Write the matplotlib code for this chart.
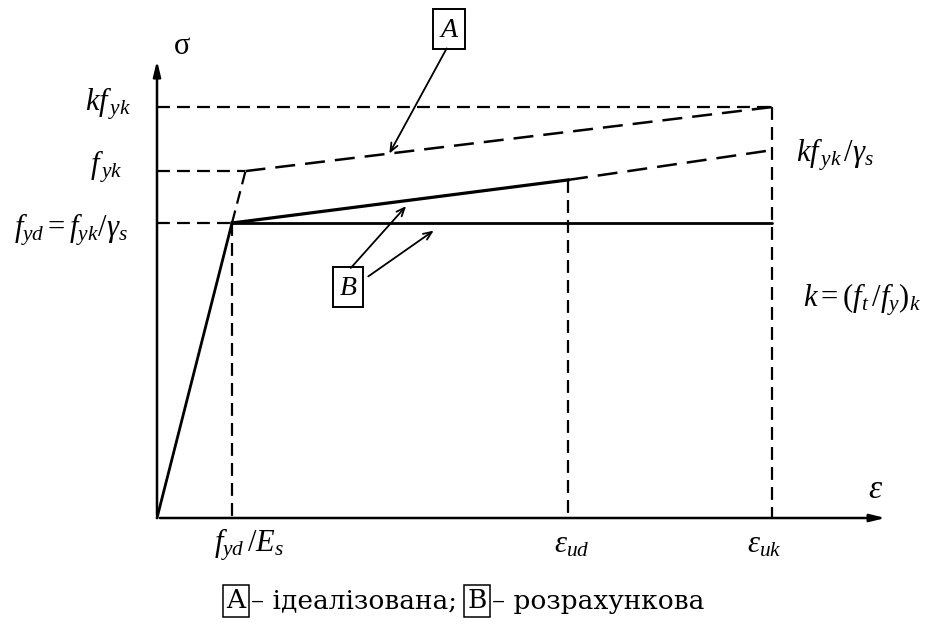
import matplotlib
matplotlib.use("Agg")
import matplotlib.pyplot as plt

plt.rcParams["mathtext.fontset"] = "custom"
plt.rcParams["mathtext.it"] = "Liberation Serif:italic"
plt.rcParams["mathtext.rm"] = "Liberation Serif"
plt.rcParams["mathtext.sf"] = "Liberation Serif"

# strain points (units of eps_yd)
eps_yd = 1.0
eps_yk = 1.18
eps_ud = 5.48
eps_uk = 8.2

# stress levels (units of f_yd)
f_yd = 1.0
f_yk = 1.176
kf_yk = 1.393
sig_ud = 1.146      # design line at eps_ud
kf_yk_gs = 1.247    # kf_yk / gamma_s at eps_uk

x_tick_labels = [r"$f_{yd}\,/E_s$", r"$\varepsilon_{ud}$", r"$\varepsilon_{uk}$"]
caption_parts = ["– ідеалізована;", "– розрахункова"]

W, H = 928, 635
fig = plt.figure(figsize=(W / 100, H / 100), dpi=100)
ax = fig.add_axes([0, 0, 1, 1])
x0, sx = 157, 75.0
y0, sy = 518, 295.0
ax.set_xlim(-x0 / sx, (W - x0) / sx)
ax.set_ylim(-(H - y0) / sy, y0 / sy)
ax.axis("off")


def px(x, y):
    """pixel position in the figure -> data coordinates"""
    return (x - x0) / sx, (y0 - y) / sy


lw = 1.6
dash = dict(color="black", lw=lw, ls=(0, (5.8, 3.2)))
long_dash = dict(color="black", lw=1.8, ls=(0, (8, 4)))
solid = dict(color="black", lw=2.0, solid_capstyle="round")

# axes with arrows
ax.annotate("", xy=(9.75, 0), xytext=(0, 0),
            arrowprops=dict(arrowstyle="-|>,head_length=0.9,head_width=0.22", color="black", lw=1.8))
ax.annotate("", xy=(0, 1.56), xytext=(0, 0),
            arrowprops=dict(arrowstyle="-|>,head_length=0.9,head_width=0.22", color="black", lw=1.8))
ax.text(*px(182, 46), "σ", fontsize=22, family="Liberation Serif", ha="center", va="center")
ax.text(*px(876, 488), r"$\varepsilon$", fontsize=24, ha="center", va="center")

# guide lines
ax.plot([0, eps_uk], [kf_yk, kf_yk], **dash)
ax.plot([0, eps_yk], [f_yk, f_yk], **dash)
ax.plot([0, eps_yd], [f_yd, f_yd], **dash)
ax.plot([eps_yd, eps_yd], [f_yd, 0], **dash)
ax.plot([eps_ud, eps_ud], [sig_ud, 0], **dash)
ax.plot([eps_uk, eps_uk], [kf_yk, 0], **dash)

# idealised diagram A
ax.plot([eps_yd, eps_yk], [f_yd, f_yk], **dash)
ax.plot([eps_yk, eps_uk], [f_yk, kf_yk], **long_dash)

# design diagrams B
ax.plot([0, eps_yd], [0, f_yd], **solid)
ax.plot([eps_yd, eps_uk], [f_yd, f_yd], **solid)
ax.plot([eps_yd, eps_ud], [f_yd, sig_ud], color="black", lw=2.3)
ax.plot([eps_ud, eps_uk], [sig_ud, kf_yk_gs], **long_dash)

# boxed labels with arrows
box = dict(boxstyle="square,pad=0.2", fc="white", ec="black", lw=1.4)
arr = dict(arrowstyle="->,head_length=0.6,head_width=0.25", color="black", lw=1.3)
ax.text(*px(449, 29), r"$A$", fontsize=20, ha="center", va="center", bbox=box)
ax.annotate("", xy=px(388, 156), xytext=px(448, 46), arrowprops=arr)
ax.text(*px(348, 287), r"$B$", fontsize=20, ha="center", va="center", bbox=box)
ax.annotate("", xy=px(408, 204), xytext=px(349, 270), arrowprops=arr)
ax.annotate("", xy=px(436, 229), xytext=px(366, 278), arrowprops=arr)

# stress labels
fs = 22
ax.text(*px(108, 104), r"$kf_{\,yk}$", fontsize=fs, ha="center", va="center")
ax.text(*px(106, 167), r"$f_{\,yk}$", fontsize=fs, ha="center", va="center")
ax.text(*px(71, 230), r"$f_{yd} = f_{yk}/\gamma_s$", fontsize=fs, ha="center", va="center")
ax.text(*px(835, 155), r"$kf_{\,yk}\,/\gamma_s$", fontsize=fs, ha="center", va="center")
ax.text(*px(862, 300), r"$k = (f_t\,/f_y)_k$", fontsize=fs, ha="center", va="center")

# strain labels
for xv, dx, lab in zip([eps_yd, eps_ud, eps_uk], [0.22, 0.05, -0.1], x_tick_labels):
    ax.text(xv + dx, -0.09, lab, fontsize=fs, ha="center", va="center")

# caption
cy = 1 - 601 / H
cbox = dict(boxstyle="square,pad=0.14", fc="white", ec="black", lw=1.1)
cap = dict(fontsize=19, family="DejaVu Serif", va="center")
fig.text(236 / W, cy, "A", ha="center", bbox=cbox, **cap)
fig.text(251 / W, cy, caption_parts[0], ha="left", **cap)
fig.text(477 / W, cy, "B", ha="center", bbox=cbox, **cap)
fig.text(492 / W, cy, caption_parts[1], ha="left", **cap)

fig.savefig("out.png", dpi=100)
